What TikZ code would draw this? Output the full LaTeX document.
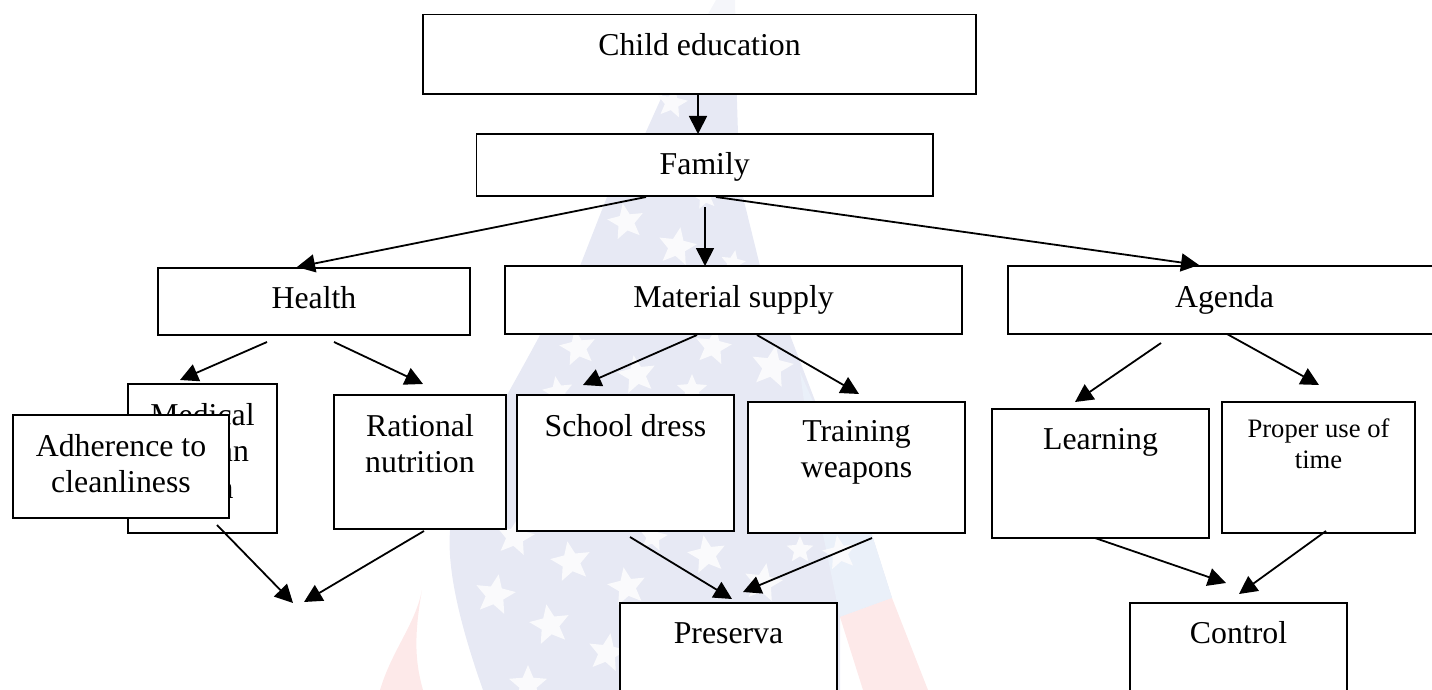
\documentclass[tikz,border=0pt]{standalone}
\usepackage{fontspec}
\setmainfont{Liberation Serif}
\usetikzlibrary{arrows.meta}
\definecolor{flagblue}{HTML}{E7E9F4}
\definecolor{flagpale}{HTML}{EAF0F9}
\definecolor{flagred}{HTML}{FDE9E9}
\definecolor{flagstar}{HTML}{FAFAFC}
\definecolor{flagtop}{HTML}{F5F6FA}
\tikzset{
  boxs/.style={draw=black,fill=white,line width=1.9pt,inner sep=0pt,outer sep=0pt,rectangle},
  arr/.style={draw=black,line width=1.8pt,-{Triangle[length=18pt,width=18pt]},shorten >=0pt},
}
\newcommand{\fl}[1]{\rule{0pt}{#1pt}}
\newcommand{\boxnode}[6]{%
  \pgfmathsetmacro\bw{#4-#2}\pgfmathsetmacro\bh{#5-#3}%
  \node[boxs,anchor=north west] (#1) at (#2,#3) {\parbox[c][\bh pt][t]{\bw pt}{\centering\fontsize{31.8}{36.5}\selectfont #6}};}
\newcommand{\flagstarshape}[4]{%
  \fill[flagstar] plot[samples at={0,36,72,108,144,180,216,252,288,324},variable=\a]
    ({#1+(mod(\a,72)==0?#3:#3*0.45)*cos(\a+#4)},{#2+(mod(\a,72)==0?#3:#3*0.45)*sin(\a+#4)}) -- cycle;}
\begin{document}
\begin{tikzpicture}[x=1pt,y=-1pt]
\useasboundingbox (0,0) rectangle (1432,690);
% watermark flag
\fill[flagtop] (716,0) -- (735,0) -- (737,94) -- (663,94) -- cycle;
\fill[flagblue] (672,70) -- (736,70) -- (738,134) -- (743,197) -- (760,266) -- (790,335) -- (830,440) -- (872,535) -- (892,598) -- (840,617) -- (840,690) -- (483,690)
   .. controls (460,625) and (447,570) .. (450,531)
   .. controls (455,480) and (500,410) .. (540,335)
   -- (580,266) -- (607,197) -- (645,134) -- (663,94) -- cycle;
\fill[flagpale] (800,372) -- (830,440) -- (872,535) -- (892,598) -- (840,617) -- (820,520) -- cycle;
\fill[flagred] (892,598) -- (928,690) -- (863,690) -- (840,617) -- cycle;
\fill[flagred] (422,590) .. controls (415,625) and (392,650) .. (380,690) -- (423,690) .. controls (416,665) and (413,640) .. (422,590) -- cycle;
\foreach \sx/\sy/\sr/\sa in {672/103/16/-80,626/222/19/-100,677/247/20/-80,705/197/13/-100,733/263/13/-80,
  578/348/19/-100,713/347/19/-80,637/375/20/-100,772/367/22/-80,692/390/16/-90,558/392/16/-100,
  515/537/20/-80,571/562/21/-100,495/595/21/-80,550/625/21/-100,607/653/20/-80,627/587/20/-100,528/685/20/-90,
  653/537/15/-80,707/555/20/-100,763/583/20/-80,840/553/18/-100,800/550/14/-90} {
  \flagstarshape{\sx}{\sy}{\sr}{\sa}
}
% boxes
\boxnode{child}{423}{14.5}{976}{94}{\fl{41}Child education}
\boxnode{family}{476.5}{134}{933}{196}{\fl{41}Family}
\boxnode{health}{158}{268}{470}{335}{\fl{40}Health}
\boxnode{material}{505}{266}{962}{334}{\fl{41}Material supply}
\boxnode{agenda}{1008}{266}{1441}{334}{\fl{41}Agenda}
\boxnode{medical}{128}{384}{277}{533}{\fl{41}Medical\\\hspace*{63pt}an\\\hspace*{46pt}n}
\boxnode{adherence}{13}{415}{229}{518}{\fl{41}Adherence to\\cleanliness}
\boxnode{rational}{334}{395}{506}{529}{\fl{41}Rational\\nutrition}
\boxnode{school}{517}{395}{734}{531}{\fl{41}School dress}
\boxnode{training}{748}{402}{965}{533}{\fl{39}Training\\weapons}
\boxnode{learning}{992}{409}{1209}{538}{\fl{40}Learning}
\boxnode{proper}{1222}{402}{1415}{533}{\fontsize{26.6}{31}\selectfont\fl{35}Proper use of\\time}
\boxnode{preserva}{620}{603}{837}{730}{\fl{40}Preserva}
\boxnode{control}{1130}{603}{1347}{730}{\fl{40}Control}
\coordinate (hubL) at (293,603);
\coordinate (hubR) at (304,602);
% connectors
\draw[arr] ([xshift=-1.5pt]child.south) -- ([xshift=-6.75pt]family.north);
\draw[arr] ([xshift=-58.75pt,yshift=-1pt]family.south) -- ([xshift=-17pt,yshift=1pt]health.north);
\draw[arr] ([xshift=0.25pt,yshift=-11pt]family.south) -- ([xshift=-28.5pt]material.north);
\draw[arr] ([xshift=11.25pt,yshift=-1pt]family.south) -- ([xshift=-25.5pt,yshift=1pt]agenda.north);
\draw[arr] ([xshift=-47pt,yshift=-7pt]health.south) -- ([xshift=-22.5pt,yshift=4pt]medical.north);
\draw[arr] ([xshift=20pt,yshift=-7pt]health.south) -- ([xshift=3pt,yshift=11pt]rational.north);
\draw[arr] ([xshift=-36.5pt,yshift=-1pt]material.south) -- ([xshift=-42.5pt,yshift=10pt]school.north);
\draw[arr] ([xshift=23.5pt,yshift=-1pt]material.south) -- ([xshift=2.5pt,yshift=8pt]training.north);
\draw[arr] ([xshift=-63.5pt,yshift=-9pt]agenda.south) -- ([xshift=-25.5pt,yshift=7pt]learning.north);
\draw[arr] ([xshift=2.5pt]agenda.south) -- ([xshift=0.5pt,yshift=17pt]proper.north);
\draw[arr] ([xshift=-5.5pt]learning.south) -- ([xshift=-12.5pt,yshift=20pt]control.north);
\draw[arr] ([xshift=7.5pt,yshift=2pt]proper.south) -- ([xshift=0.5pt,yshift=9pt]control.north);
\draw[arr] ([xshift=4.5pt,yshift=-6pt]school.south) -- ([xshift=3.5pt,yshift=4pt]preserva.north);
\draw[arr] ([xshift=15.5pt,yshift=-5pt]training.south) -- ([xshift=14.5pt,yshift=11pt]preserva.north);
\draw[arr] ([xshift=96pt,yshift=-7pt]adherence.south) -- (hubL);
\draw[arr] ([xshift=4pt,yshift=-2pt]rational.south) -- (hubR);
\end{tikzpicture}
\end{document}
